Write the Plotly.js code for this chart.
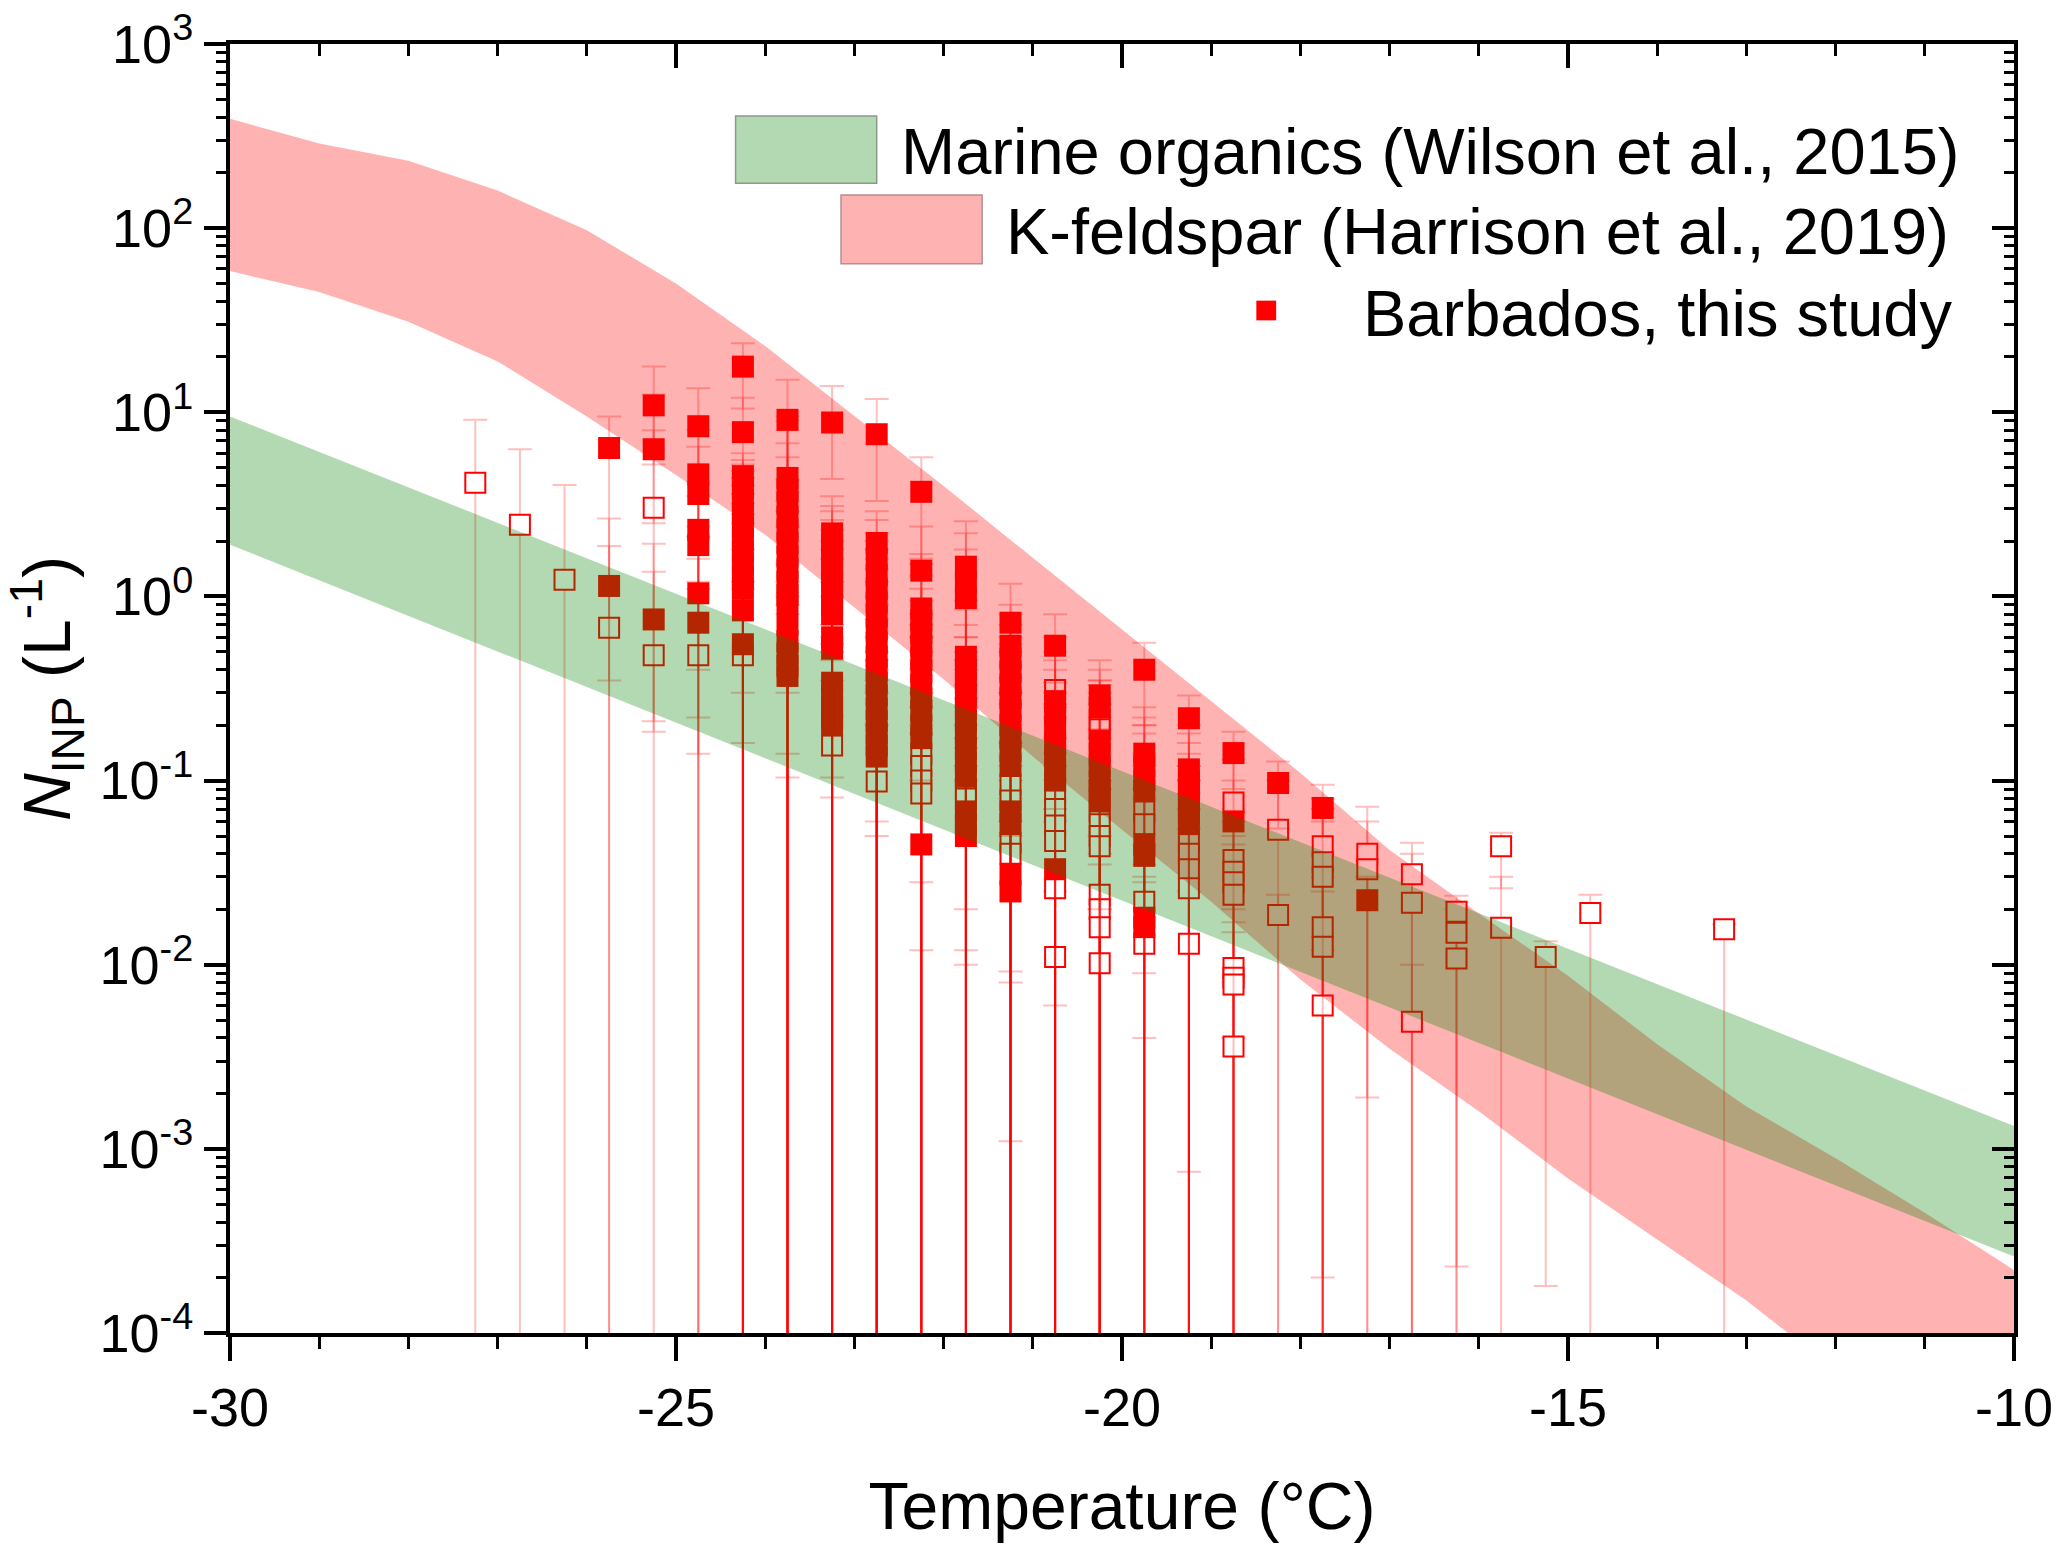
<!DOCTYPE html>
<html>
<head>
<meta charset="utf-8">
<script src="https://cdn.plot.ly/plotly-3.0.1.min.js"></script>
<style>
html, body {margin: 0; padding: 0; background: #fff;}
#chart {width: 2067px; height: 1554px;}
</style>
</head>
<body>
<div id="chart"></div>
<script>
/* INP concentration vs temperature, Barbados */

// K-feldspar band (Harrison et al., 2019)
var pinkT  = [-30, -29, -28, -27, -26, -25, -24, -23, -22, -21, -20, -19, -18, -17, -16, -15, -14, -13, -12, -11, -10];
var pinkHi = [393, 288, 232, 160, 97.5, 50, 22.9, 9.5, 3.98, 1.62, 0.66, 0.27, 0.11, 0.042, 0.019, 0.0087, 0.0037, 0.0017, 0.00089, 0.00045, 0.00022];
var pinkLo = [58.5, 45, 31, 18.9, 9.5, 4.56, 2.16, 0.87, 0.355, 0.135, 0.054, 0.022, 0.0083, 0.0035, 0.0016, 0.00069, 0.00032, 0.00015, 0.000063, 0.000028, 0.0000126];

// Marine organics band (Wilson et al., 2015)
var greenT  = [-30, -20, -10];
var greenHi = [9.5, 0.112, 0.00133];
var greenLo = [1.91, 0.0222, 0.00026];

// Barbados, filled squares (value, upper bound, lower bound; 0 = down to zero)
var filledT = [
  -25.75, -25.75,
  -25.25, -25.25, -25.25,
  -24.75, -24.75, -24.75, -24.75, -24.75, -24.75, -24.75,
  -24.25, -24.25, -24.25, -24.25, -24.25, -24.25, -24.25, -24.25, -24.25, -24.25, -24.25, -24.25, -24.25, -24.25,
  -23.75, -23.75, -23.75, -23.75, -23.75, -23.75, -23.75, -23.75, -23.75, -23.75, -23.75, -23.75, -23.75, -23.75, -23.75, -23.75, -23.75,
  -23.25, -23.25, -23.25, -23.25, -23.25, -23.25, -23.25, -23.25, -23.25, -23.25, -23.25, -23.25, -23.25, -23.25, -23.25, -23.25,
  -22.75, -22.75, -22.75, -22.75, -22.75, -22.75, -22.75, -22.75, -22.75, -22.75, -22.75, -22.75, -22.75, -22.75, -22.75, -22.75, -22.75, -22.75,
  -22.25, -22.25, -22.25, -22.25, -22.25, -22.25, -22.25, -22.25, -22.25, -22.25, -22.25, -22.25, -22.25, -22.25,
  -21.75, -21.75, -21.75, -21.75, -21.75, -21.75, -21.75, -21.75, -21.75, -21.75, -21.75, -21.75, -21.75, -21.75, -21.75, -21.75,
  -21.25, -21.25, -21.25, -21.25, -21.25, -21.25, -21.25, -21.25, -21.25, -21.25, -21.25, -21.25, -21.25, -21.25, -21.25,
  -20.75, -20.75, -20.75, -20.75, -20.75, -20.75, -20.75, -20.75, -20.75,
  -20.25, -20.25, -20.25, -20.25, -20.25, -20.25, -20.25, -20.25,
  -19.75, -19.75, -19.75, -19.75, -19.75, -19.75, -19.75, -19.75, -19.75,
  -19.25, -19.25, -19.25, -19.25, -19.25, -19.25, -19.25,
  -18.75, -18.75,
  -18.25,
  -17.75,
  -17.25
];
var filledV = [
  6.4, 1.14,
  10.9, 6.3, 0.75,
  8.4, 4.6, 3.6, 2.3, 1.9, 1.04, 0.72,
  17.7, 7.8, 4.5, 3.9, 3.3, 2.8, 2.4, 2.05, 1.75, 1.5, 1.28, 1.1, 0.84, 0.55,
  9.1, 4.4, 3.8, 3.2, 2.7, 2.3, 1.95, 1.65, 1.4, 1.2, 1.02, 0.92, 0.70, 0.57, 0.49, 0.42, 0.37,
  8.8, 2.2, 1.9, 1.65, 1.42, 1.22, 1.05, 0.9, 0.8, 0.6, 0.52, 0.34, 0.29, 0.25, 0.22, 0.2,
  7.6, 1.95, 1.6, 1.3, 1.1, 0.93, 0.78, 0.66, 0.56, 0.47, 0.40, 0.34, 0.29, 0.245, 0.21, 0.18, 0.155, 0.135,
  3.7, 1.38, 0.86, 0.74, 0.63, 0.54, 0.46, 0.39, 0.33, 0.28, 0.24, 0.2, 0.17, 0.045,
  1.45, 1.2, 0.98, 0.47, 0.40, 0.34, 0.29, 0.245, 0.21, 0.18, 0.15, 0.125, 0.105, 0.068, 0.058, 0.05,
  0.72, 0.54, 0.46, 0.39, 0.33, 0.28, 0.24, 0.2, 0.17, 0.145, 0.12, 0.068, 0.058, 0.031, 0.025,
  0.54, 0.27, 0.23, 0.19, 0.16, 0.135, 0.115, 0.1, 0.033,
  0.29, 0.25, 0.165, 0.14, 0.12, 0.1, 0.088, 0.077,
  0.40, 0.14, 0.12, 0.1, 0.088, 0.045, 0.039, 0.018, 0.016,
  0.218, 0.115, 0.1, 0.088, 0.076, 0.066, 0.058,
  0.141, 0.06,
  0.097,
  0.071,
  0.0224
];
var filledHi = [
  9.5, 2.65,
  17.7, 12.5, 1.93,
  13.5, 8.0, 6.5, 4.2, 3.5, 2.1, 1.6,
  23.7, 12, 6.0, 5.5, 5.2, 4.8, 4.4, 4.0, 3.6, 3.2, 2.8, 2.5, 1.8, 1.2,
  15, 9.5, 9.0, 8.0, 6.8, 5.7, 4.3, 3.7, 3.3, 2.9, 2.4, 2.0, 1.5, 1.2, 1.0, 0.9, 0.8,
  13.9, 3.5, 3.1, 2.9, 2.6, 2.3, 2.0, 1.8, 1.6, 1.2, 1.0, 0.7, 0.6, 0.55, 0.5, 0.45,
  11.8, 2.9, 2.6, 2.2, 2.0, 1.8, 1.6, 1.4, 1.2, 1.0, 0.9, 0.75, 0.6, 0.5, 0.45, 0.4, 0.35, 0.3,
  5.7, 2.4, 1.7, 1.5, 1.3, 1.1, 0.95, 0.8, 0.7, 0.6, 0.5, 0.45, 0.4, 0.1,
  2.56, 2.2, 1.8, 0.95, 0.85, 0.7, 0.6, 0.5, 0.45, 0.4, 0.33, 0.28, 0.25, 0.15, 0.12, 0.1,
  1.17, 0.9, 0.8, 0.7, 0.6, 0.55, 0.5, 0.42, 0.36, 0.3, 0.26, 0.14, 0.12, 0.06, 0.05,
  0.8, 0.5, 0.45, 0.4, 0.34, 0.3, 0.26, 0.22, 0.07,
  0.35, 0.45, 0.33, 0.3, 0.26, 0.22, 0.19, 0.17,
  0.56, 0.25, 0.22, 0.2, 0.18, 0.09, 0.08, 0.035, 0.03,
  0.29, 0.2, 0.18, 0.16, 0.14, 0.12, 0.1,
  0.184, 0.1,
  0.127,
  0.095,
  0.03
];
var filledLo = [
  0, 0.35,
  5.2, 0, 0.21,
  0, 2.4, 0, 1.1, 0, 0.4, 0.22,
  10.5, 0, 0, 0, 0, 0, 0, 0, 0, 0, 0, 0, 0.3, 0.16,
  0, 0, 0, 0, 0, 0, 0, 0, 0, 0, 0, 0, 0.3, 0.14, 0.104, 0, 0,
  4.34, 0, 0, 0, 0, 0, 0, 0, 0, 0, 0, 0, 0, 0.104, 0.081, 0,
  3.3, 0, 0, 0, 0, 0, 0, 0, 0, 0, 0, 0, 0, 0.05, 0, 0.06, 0, 0,
  1.6, 0.6, 0, 0, 0, 0, 0, 0, 0, 0, 0, 0, 0.028, 0.012,
  0.6, 0, 0, 0, 0, 0, 0, 0, 0.02, 0, 0.012, 0, 0, 0, 0.01, 0,
  0.3, 0, 0, 0, 0, 0, 0, 0, 0, 0.0092, 0, 0, 0.008, 0, 0.0011,
  0.25, 0, 0, 0, 0, 0, 0, 0, 0,
  0, 0, 0, 0, 0, 0.02, 0, 0,
  0.2, 0, 0, 0, 0.009, 0, 0, 0, 0.004,
  0.12, 0, 0, 0, 0, 0, 0.00075,
  0.09, 0,
  0.055,
  0,
  0.0019
];

// Barbados, open squares
var openT = [
  -27.25, -26.75, -26.25, -25.75,
  -25.25, -25.25,
  -24.75, -24.25, -23.25, -22.75,
  -22.25, -22.25, -22.25, -22.25,
  -21.75, -21.75,
  -21.25, -21.25, -21.25, -21.25,
  -20.75, -20.75, -20.75, -20.75, -20.75, -20.75, -20.75,
  -20.25, -20.25, -20.25, -20.25, -20.25, -20.25, -20.25, -20.25, -20.25, -20.25,
  -19.75, -19.75, -19.75, -19.75,
  -19.25, -19.25, -19.25, -19.25, -19.25,
  -18.75, -18.75, -18.75, -18.75, -18.75, -18.75, -18.75, -18.75, -18.75,
  -18.25, -18.25,
  -17.75, -17.75, -17.75, -17.75, -17.75, -17.75,
  -17.25, -17.25,
  -16.75, -16.75, -16.75,
  -16.25, -16.25, -16.25,
  -15.75, -15.75,
  -15.25, -14.75, -13.25
];
var openV = [
  4.14, 2.45, 1.23, 0.675,
  3.03, 0.48,
  0.48, 0.48, 0.155, 0.099,
  0.14, 0.12, 0.1, 0.085,
  0.09, 0.08,
  0.095, 0.078, 0.046, 0.04,
  0.31, 0.085, 0.07, 0.057, 0.047, 0.026, 0.011,
  0.215, 0.19, 0.068, 0.058, 0.05, 0.044, 0.024, 0.02, 0.016, 0.0102,
  0.068, 0.058, 0.022, 0.013,
  0.047, 0.04, 0.033, 0.026, 0.013,
  0.076, 0.037, 0.032, 0.028, 0.024, 0.0096, 0.0085, 0.0078, 0.0036,
  0.054, 0.0186,
  0.044, 0.036, 0.030, 0.016, 0.0125, 0.006,
  0.040, 0.033,
  0.031, 0.0217, 0.0049,
  0.0194, 0.0149, 0.0108,
  0.044, 0.0159,
  0.011, 0.0191, 0.0156
];
var openHi = [
  9.1, 6.3, 4.03, 1.88,
  8.0, 1.36,
  1.2, 1.1, 0.35, 0.2,
  0.3, 0.25, 0.2, 0.18,
  0.2, 0.17,
  0.2, 0.16, 0.1, 0.08,
  0.6, 0.17, 0.14, 0.12, 0.1, 0.06, 0.025,
  0.4, 0.35, 0.14, 0.12, 0.1, 0.09, 0.05, 0.04, 0.035, 0.02,
  0.14, 0.12, 0.045, 0.028,
  0.1, 0.085, 0.07, 0.055, 0.025,
  0.13, 0.07, 0.06, 0.05, 0.045, 0.02, 0.017, 0.015, 0.008,
  0.1, 0.024,
  0.08, 0.07, 0.06, 0.03, 0.025, 0.012,
  0.072, 0.06,
  0.046, 0.04, 0.01,
  0.0237, 0.022, 0.02,
  0.052, 0.03,
  0.0134, 0.024, 0.0166
];
var openLo = [
  0, 0, 0, 0,
  2.5, 0.184,
  0.14, 0, 0, 0,
  0, 0, 0, 0,
  0, 0,
  0, 0, 0, 0,
  0, 0, 0, 0, 0.006, 0, 0,
  0, 0, 0, 0, 0, 0, 0, 0, 0, 0,
  0, 0, 0, 0,
  0, 0, 0, 0, 0,
  0, 0, 0, 0, 0.004, 0, 0, 0, 0,
  0, 0,
  0, 0, 0.0002, 0, 0, 0,
  0, 0,
  0, 0, 0,
  0, 0, 0.00023,
  0.026, 0,
  0.00018, 0, 0
];

// axis ticks
var xTickVals = [-30, -25, -20, -15, -10];
var xTickText = ['-30', '-25', '-20', '-15', '-10'];
var yTickVals = [1e-4, 1e-3, 1e-2, 1e-1, 1, 10, 100, 1000];
var yTickText = ['10<sup>-4</sup>', '10<sup>-3</sup>', '10<sup>-2</sup>', '10<sup>-1</sup>',
                 '10<sup>0</sup>', '10<sup>1</sup>', '10<sup>2</sup>', '10<sup>3</sup>'];

// legend
var legendLabels = ['Marine organics (Wilson et al., 2015)', 'K-feldspar (Harrison et al., 2019)', 'Barbados, this study'];

/* ---------- building ---------- */
var FONT = 'Liberation Sans, Arial, sans-serif';
var RED = '#ff0000';
var BAR = 'rgba(255,0,0,0.25)';
var GREEN_FILL = 'rgba(0,128,0,0.3)';
var PINK_FILL = 'rgba(255,0,0,0.3)';

function errUp(v, hi) { return v.map(function (d, i) { return hi[i] - d; }); }
function errDown(v, lo) { return v.map(function (d, i) { return lo[i] > 0 ? d - lo[i] : d; }); }

// closed polygon from upper and lower edges
function band(t, hi, lo) {
  return {
    x: t.concat(t.slice().reverse()),
    y: hi.concat(lo.slice().reverse())
  };
}

var pinkPoly = band(pinkT, pinkHi, pinkLo);
var greenPoly = band(greenT, greenHi, greenLo);

var traceOpen = {
  x: openT, y: openV,
  mode: 'markers', type: 'scatter',
  marker: {symbol: 'square', size: 20, color: '#ffffff', line: {color: RED, width: 2}},
  error_y: {type: 'data', symmetric: false, array: errUp(openV, openHi), arrayminus: errDown(openV, openLo),
            color: BAR, thickness: 2, width: 12},
  showlegend: false, hoverinfo: 'x+y'
};
var traceFilled = {
  x: filledT, y: filledV,
  mode: 'markers', type: 'scatter',
  marker: {symbol: 'square', size: 22, color: RED, line: {width: 0}},
  error_y: {type: 'data', symmetric: false, array: errUp(filledV, filledHi), arrayminus: errDown(filledV, filledLo),
            color: BAR, thickness: 2, width: 12},
  showlegend: false, hoverinfo: 'x+y'
};
var tracePink = {
  x: pinkPoly.x, y: pinkPoly.y,
  mode: 'lines', type: 'scatter', fill: 'toself',
  fillcolor: PINK_FILL, line: {width: 0},
  showlegend: false, hoverinfo: 'skip'
};
var traceGreen = {
  x: greenPoly.x, y: greenPoly.y,
  mode: 'lines', type: 'scatter', fill: 'toself',
  fillcolor: GREEN_FILL, line: {width: 0},
  showlegend: false, hoverinfo: 'skip'
};
// empty trace so the top/right tick axes are drawn
var traceFrame = {x: [], y: [], xaxis: 'x2', yaxis: 'y2', type: 'scatter', showlegend: false};

// minor tick positions for the log axis
var yMinor = [];
for (var e = -4; e < 3; e++) {
  for (var m = 2; m <= 9; m++) yMinor.push(m * Math.pow(10, e));
}

var tickFont = {family: FONT, size: 54, color: '#000'};
var titleFont = {family: FONT, size: 66, color: '#000'};
var legendFont = {family: FONT, size: 65, color: '#000'};

var layout = {
  width: 2067, height: 1554,
  margin: {l: 230, r: 53, t: 44, b: 221},
  paper_bgcolor: '#fff', plot_bgcolor: '#fff',
  font: {family: FONT, color: '#000'},
  showlegend: false,
  xaxis: {
    range: [-30, -10], tickmode: 'array', tickvals: xTickVals, ticktext: xTickText,
    ticks: 'outside', ticklen: 24, tickwidth: 4, tickcolor: '#000',
    minor: {dtick: 1, tick0: -30, ticks: 'outside', ticklen: 12, tickwidth: 3, tickcolor: '#000', showgrid: false},
    showline: true, linewidth: 4, linecolor: '#000', mirror: true,
    showgrid: false, zeroline: false, tickfont: tickFont, automargin: false,
    title: {text: 'Temperature (\u00B0C)', font: titleFont, standoff: 48}
  },
  yaxis: {
    type: 'log', range: [-4, 3], tickmode: 'array', tickvals: yTickVals, ticktext: yTickText,
    ticks: 'outside', ticklen: 22, tickwidth: 4, tickcolor: '#000',
    minor: {tickvals: yMinor, ticks: 'outside', ticklen: 10, tickwidth: 3, tickcolor: '#000', showgrid: false},
    showline: true, linewidth: 4, linecolor: '#000', mirror: true,
    showgrid: false, zeroline: false, tickfont: tickFont, automargin: false,
    title: {text: '<i>N</i><sub>INP</sub> (L<sup>-1</sup>)', font: titleFont, standoff: 10}
  },
  xaxis2: {
    overlaying: 'x', side: 'top', range: [-30, -10], tickmode: 'array', tickvals: xTickVals,
    ticks: 'inside', ticklen: 24, tickwidth: 4, tickcolor: '#000', showticklabels: false,
    minor: {dtick: 1, tick0: -30, ticks: 'inside', ticklen: 12, tickwidth: 3, tickcolor: '#000', showgrid: false},
    showline: false, showgrid: false, zeroline: false
  },
  yaxis2: {
    overlaying: 'y', side: 'right', type: 'log', range: [-4, 3], tickmode: 'array', tickvals: yTickVals,
    ticks: 'inside', ticklen: 22, tickwidth: 4, tickcolor: '#000', showticklabels: false,
    minor: {tickvals: yMinor, ticks: 'inside', ticklen: 10, tickwidth: 3, tickcolor: '#000', showgrid: false},
    showline: false, showgrid: false, zeroline: false
  },
  shapes: [
    {type: 'rect', xref: 'paper', yref: 'paper', x0: 0.2834, x1: 0.3625, y0: 0.8920, y1: 0.9441,
     fillcolor: GREEN_FILL, line: {color: '#8a9a8a', width: 1.5}},
    {type: 'rect', xref: 'paper', yref: 'paper', x0: 0.3425, x1: 0.4216, y0: 0.8296, y1: 0.8828,
     fillcolor: PINK_FILL, line: {color: '#b09090', width: 1.5}},
    {type: 'rect', xref: 'paper', yref: 'paper', x0: 0.5753, x1: 0.5864, y0: 0.7856, y1: 0.8009,
     fillcolor: RED, line: {width: 0}}
  ],
  annotations: [
    {xref: 'paper', yref: 'paper', x: 0.375, y: 0.9165, xanchor: 'left', yanchor: 'middle', showarrow: false,
     text: legendLabels[0], font: legendFont},
    {xref: 'paper', yref: 'paper', x: 0.4341, y: 0.8542, xanchor: 'left', yanchor: 'middle', showarrow: false,
     text: legendLabels[1], font: legendFont},
    {xref: 'paper', yref: 'paper', x: 0.6337, y: 0.7907, xanchor: 'left', yanchor: 'middle', showarrow: false,
     text: legendLabels[2], font: legendFont}
  ]
};

Plotly.newPlot('chart', [traceOpen, traceFilled, tracePink, traceGreen, traceFrame], layout,
  {displayModeBar: false, staticPlot: true});
</script>
</body>
</html>
